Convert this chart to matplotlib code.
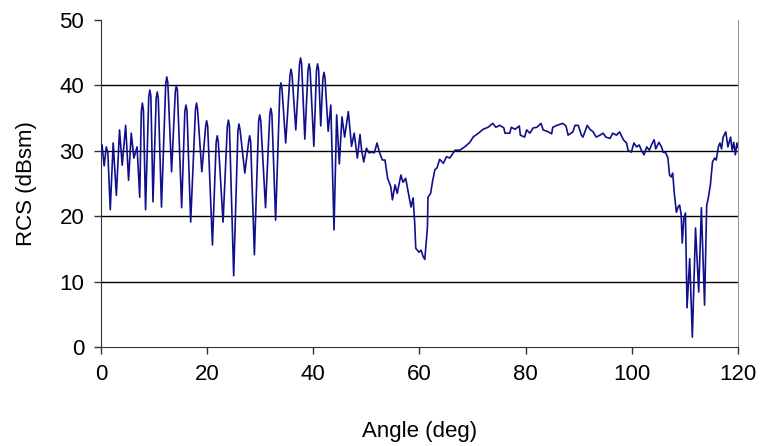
#!/usr/bin/env python3
# -*- coding: utf-8 -*-
import matplotlib

matplotlib.use("Agg")
from matplotlib import pyplot as plt

# RCS vs angle
angle = [
    0.0, 0.2, 0.6, 1.0, 1.3, 1.75, 2.3, 2.9, 3.5, 4.0, 4.65, 5.2, 5.7, 6.2,
    6.8, 7.3, 7.6, 7.8, 8.0, 8.4, 9.0, 9.2, 9.4, 9.8, 10.4, 10.6, 10.8, 11.4,
    12.2, 12.4, 12.6, 13.3, 14.0, 14.2, 14.4, 15.2, 15.8, 16.0, 16.2, 16.9,
    17.8, 18.0, 18.2, 19.0, 19.7, 19.9, 20.1, 21.0, 21.7, 21.9, 22.1, 23.0,
    23.8, 24.0, 24.2, 25.0, 25.8, 26.0, 26.2, 27.1, 27.8, 28.0, 28.2, 28.9,
    29.7, 29.9, 30.1, 31.0, 31.8, 32.0, 32.2, 32.9, 33.7, 33.9, 34.1, 34.8,
    35.6, 35.8, 36.0, 36.7, 37.4, 37.6, 37.8, 38.4, 39.0, 39.2, 39.4, 40.1,
    40.6, 40.8, 41.0, 41.4, 41.8, 42.0, 42.2, 42.8, 43.3, 43.9, 44.4, 44.9,
    45.4, 45.9, 46.6, 47.2, 47.7, 48.3, 48.8, 49.1, 49.5, 50.0, 50.5, 51.0,
    51.5, 52.0, 52.5, 53.0, 53.5, 54.0, 54.6, 54.9, 55.4, 55.8, 56.5, 56.9,
    57.4, 58.0, 58.4, 58.8, 59.1, 59.3, 59.9, 60.3, 60.7, 61.0, 61.5, 61.6,
    62.1, 62.5, 62.9, 63.3, 63.8, 64.5, 65.1, 65.7, 66.7, 67.6, 68.5, 69.5,
    70.1, 71.1, 72.0, 72.9, 73.8, 74.4, 75.1, 75.9, 76.1, 77.0, 77.3, 78.0,
    78.8, 79.0, 79.8, 80.2, 80.8, 81.4, 82.1, 82.9, 83.3, 84.3, 84.9, 85.1,
    85.9, 87.0, 87.6, 88.0, 88.9, 89.3, 89.9, 90.5, 90.8, 91.6, 92.1, 92.7,
    93.3, 94.0, 94.6, 95.1, 95.9, 96.4, 97.1, 97.7, 98.4, 99.0, 99.3, 99.9,
    100.4, 100.9, 101.4, 101.8, 102.3, 102.8, 103.3, 103.7, 104.2, 104.5,
    105.1, 105.6, 105.9, 106.4, 106.8, 107.1, 107.4, 107.7, 108.0, 108.4,
    108.7, 109.0, 109.3, 109.5, 109.8, 110.1, 110.4, 110.9, 111.4, 112.0,
    112.6, 113.1, 113.7, 114.1, 114.4, 114.8, 115.2, 115.6, 115.9, 116.3,
    116.6, 116.9, 117.2, 117.7, 118.1, 118.6, 118.9, 119.2, 119.5, 119.8,
    120.0,
]
rcs = [
    30.5, 30.9, 27.7, 30.6, 29.7, 21.0, 31.2, 23.2, 33.2, 27.8, 33.9, 25.5,
    32.7, 28.9, 30.6, 22.9, 36.0, 37.3, 36.2, 21.0, 38.2, 39.3, 38.4, 22.2,
    38.0, 39.0, 38.0, 21.4, 40.3, 41.3, 40.4, 26.8, 39.0, 40.0, 39.2, 21.3,
    36.0, 37.0, 36.2, 19.1, 36.3, 37.3, 36.3, 26.8, 33.6, 34.6, 33.8, 15.6,
    31.3, 32.3, 31.4, 19.1, 33.7, 34.7, 33.8, 10.9, 33.1, 34.1, 33.2, 26.6,
    31.3, 32.3, 31.4, 14.1, 34.5, 35.5, 34.6, 21.3, 35.5, 36.5, 35.6, 19.4,
    39.4, 40.4, 39.5, 31.2, 41.5, 42.5, 41.6, 33.2, 43.2, 44.2, 43.3, 31.8,
    42.3, 43.3, 42.4, 30.7, 42.3, 43.3, 42.4, 33.8, 41.0, 42.0, 41.2, 33.0,
    37.0, 17.9, 35.5, 28.0, 35.2, 32.1, 36.0, 30.7, 32.7, 28.9, 32.5, 30.1,
    28.3, 30.4, 29.7, 29.8, 29.7, 31.2, 29.7, 28.6, 28.6, 25.8, 24.5, 22.5,
    24.8, 23.5, 26.3, 25.2, 25.8, 23.2, 21.4, 22.8, 19.0, 15.1, 14.5, 14.8,
    13.8, 13.4, 18.3, 22.9, 23.5, 25.5, 27.1, 27.4, 28.7, 28.1, 29.1, 28.9,
    30.1, 30.1, 30.6, 31.3, 32.1, 32.7, 33.3, 33.6, 34.2, 33.6, 33.9, 33.5,
    32.7, 32.7, 33.6, 33.3, 33.8, 32.4, 32.1, 33.2, 32.7, 33.5, 33.6, 34.2,
    33.2, 32.9, 32.6, 33.6, 33.9, 34.2, 33.8, 32.4, 32.9, 33.9, 33.9, 32.4,
    32.1, 33.9, 33.3, 32.9, 32.1, 32.4, 32.7, 32.1, 31.9, 32.7, 32.4, 32.9,
    31.7, 31.2, 30.1, 29.8, 31.2, 30.6, 30.9, 30.1, 29.4, 30.6, 30.1, 30.9,
    31.7, 30.3, 31.3, 30.6, 29.8, 29.7, 28.9, 26.3, 26.0, 26.6, 23.5, 20.6,
    21.4, 21.7, 20.2, 15.9, 19.7, 20.5, 6.0, 13.5, 1.5, 18.2, 8.4, 21.3, 6.4,
    21.6, 22.8, 24.8, 28.3, 28.9, 28.6, 30.6, 31.2, 30.3, 32.1, 32.9, 30.6,
    32.1, 30.1, 31.3, 29.4, 31.2, 30.5,
]
x_ticks = [0, 20, 40, 60, 80, 100, 120]
y_ticks = [0, 10, 20, 30, 40, 50]

plt.rcParams["font.family"] = ["Liberation Sans", "DejaVu Sans"]

fig = plt.figure(figsize=(7.62, 4.46), dpi=100)
ax = fig.add_axes([0.1325, 0.222, 0.836, 0.733])

# horizontal grid only, black like the original
for v in y_ticks[1:-1]:
    ax.axhline(v, color="black", lw=1.0, zorder=1)

ax.plot(angle, rcs, color="#10108c", lw=1.2, zorder=3)

ax.set_xlim(0, 120)
ax.set_ylim(0, 50)
ax.set_xticks(x_ticks)
ax.set_yticks(y_ticks)
ax.tick_params(axis="both", direction="out", length=5, width=1.0,
               labelsize=16, color="#333333", pad=7)

ax.spines["top"].set_visible(False)
ax.spines["right"].set_color("#999999")
ax.spines["left"].set_color("#333333")
ax.spines["bottom"].set_color("#333333")

ax.set_xlabel("Angle (deg)", fontsize=16)
ax.set_ylabel("RCS (dBsm)", fontsize=16)
ax.xaxis.set_label_coords(0.5, -0.225)
ax.yaxis.set_label_coords(-0.1, 0.5)

fig.savefig("out.png", dpi=100)
